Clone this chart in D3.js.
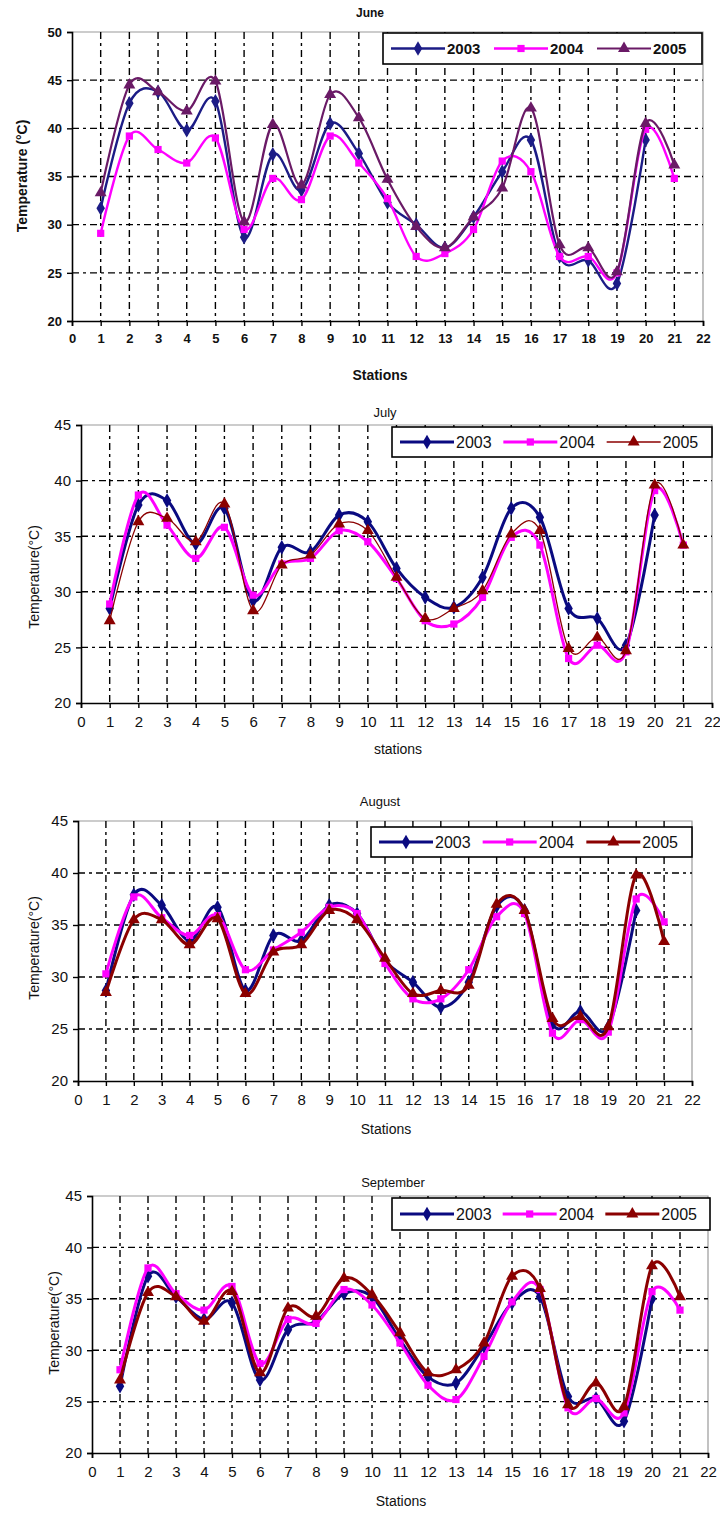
<!DOCTYPE html>
<html>
<head>
<meta charset="utf-8">
<script src="https://cdn.jsdelivr.net/npm/d3@7"></script>
<style>
  html, body { margin: 0; padding: 0; background: #fff; }
  svg { display: block; font-family: "Liberation Sans", Arial, sans-serif; }
</style>
</head>
<body>
<svg id="chart" width="720" height="1513"></svg>
<script>
// Stations along the x axis and the axis tick labels
const stations = [1, 2, 3, 4, 5, 6, 7, 8, 9, 10, 11, 12, 13, 14, 15, 16, 17, 18, 19, 20, 21];
const xTicks = [0, 1, 2, 3, 4, 5, 6, 7, 8, 9, 10, 11, 12, 13, 14, 15, 16, 17, 18, 19, 20, 21, 22];
const yTicksJune = [20, 25, 30, 35, 40, 45, 50];
const yTicksOther = [20, 25, 30, 35, 40, 45];
const years = ["2003", "2004", "2005"];

// Mean temperature (°C) per station, by month and year
const june2003 = [31.7, 42.6, 43.8, 39.8, 42.8, 28.7, 37.3, 33.6, 40.5, 37.4, 32.3, 30.0, 27.6, 30.8, 35.5, 38.8, 26.7, 26.3, 23.9, 38.8, null];
const june2004 = [29.1, 39.2, 37.8, 36.4, 39.0, 29.5, 34.8, 32.6, 39.2, 36.4, 32.7, 26.7, 27.0, 29.5, 36.6, 35.5, 26.7, 26.7, 25.0, 39.9, 34.8];
const june2005 = [33.3, 44.5, 43.8, 41.8, 44.9, 30.3, 40.4, 34.1, 43.5, 41.1, 34.7, 29.8, 27.6, 30.8, 33.8, 42.1, 27.9, 27.6, 25.1, 40.5, 36.2];

const july2003 = [28.5, 37.8, 38.2, 34.3, 37.5, 29.2, 34.0, 33.6, 36.9, 36.3, 32.1, 29.5, 28.6, 31.3, 37.5, 36.7, 28.5, 27.6, 25.2, 36.9, null];
const july2004 = [28.9, 38.7, 36.0, 33.0, 35.8, 29.7, 32.5, 33.0, 35.5, 34.5, 31.2, 27.4, 27.1, 29.5, 34.9, 34.2, 24.0, 25.2, 24.6, 39.1, 34.2];
const july2005 = [27.4, 36.3, 36.6, 34.5, 37.9, 28.3, 32.4, 33.3, 36.1, 35.5, 31.3, 27.6, 28.5, 30.1, 35.2, 35.5, 24.9, 25.9, 24.7, 39.6, 34.2];

const aug2003 = [28.7, 37.9, 36.9, 33.5, 36.7, 28.7, 34.0, 33.5, 36.9, 36.1, 31.6, 29.5, 27.1, 29.5, 36.8, 36.4, 25.5, 26.7, 25.2, 36.4, null];
const aug2004 = [30.3, 37.7, 35.7, 34.0, 35.9, 30.7, 32.6, 34.3, 36.7, 36.1, 31.3, 27.9, 27.9, 30.7, 35.8, 36.1, 24.6, 25.9, 24.7, 37.5, 35.3];
const aug2005 = [28.5, 35.5, 35.5, 33.1, 35.6, 28.4, 32.4, 33.1, 36.4, 35.5, 31.8, 28.4, 28.7, 29.2, 37.0, 36.4, 26.0, 26.2, 25.2, 39.8, 33.4];

const sep2003 = [26.5, 37.2, 35.2, 33.0, 34.6, 27.1, 32.0, 32.8, 35.5, 35.2, 31.0, 27.4, 26.8, 30.4, 34.6, 35.2, 25.5, 25.3, 23.1, 35.0, null];
const sep2004 = [28.1, 38.0, 35.5, 33.9, 36.2, 28.7, 33.0, 32.6, 35.9, 34.4, 30.7, 26.6, 25.2, 29.4, 34.7, 35.9, 24.4, 25.3, 23.9, 35.7, 33.9];
const sep2005 = [27.1, 35.6, 35.2, 32.8, 35.7, 27.8, 34.1, 33.3, 37.0, 35.4, 31.7, 27.8, 28.1, 30.7, 37.2, 36.0, 24.7, 26.8, 24.5, 38.2, 35.2];

const svg = d3.select("#chart");

const panels = [
  {
    title: "June", xLabel: "Stations", yLabel: "Temperature (°C)",
    series: [june2003, june2004, june2005],
    colors: ["#1c1c86", "#ff00ff", "#6a1a66"],
    widths: [2.4, 2.4, 2.2],
    yDomain: [20, 50], yTicks: yTicksJune,
    left: 72, right: 703, top: 32, bottom: 321,
    titleX: 370, titleY: 17,
    legend: { x: 383, y: 33, w: 319, h: 31 },
    xLabelX: 380, xLabelY: 380, yLabelX: 22, yLabelY: 176,
    bold: true
  },
  {
    title: "July", xLabel: "stations", yLabel: "Temperature(°C)",
    series: [july2003, july2004, july2005],
    colors: ["#0a0a80", "#ff00ff", "#8b0000"],
    widths: [3, 3, 1.3],
    yDomain: [20, 45], yTicks: yTicksOther,
    left: 81, right: 712, top: 425, bottom: 703,
    titleX: 385, titleY: 417,
    legend: { x: 392, y: 427, w: 320, h: 30 },
    xLabelX: 398, xLabelY: 754, yLabelX: 34, yLabelY: 577,
    bold: false
  },
  {
    title: "August", xLabel: "Stations", yLabel: "Temperature(°C)",
    series: [aug2003, aug2004, aug2005],
    colors: ["#0a0a80", "#ff00ff", "#8b0000"],
    widths: [3, 3, 3],
    yDomain: [20, 45], yTicks: yTicksOther,
    left: 78, right: 692, top: 821, bottom: 1081,
    titleX: 380, titleY: 806,
    legend: { x: 371, y: 827, w: 321, h: 30 },
    xLabelX: 386, xLabelY: 1134, yLabelX: 34, yLabelY: 948,
    bold: false
  },
  {
    title: "September", xLabel: "Stations", yLabel: "Temperature(°C)",
    series: [sep2003, sep2004, sep2005],
    colors: ["#0a0a80", "#ff00ff", "#8b0000"],
    widths: [3, 3, 3],
    yDomain: [20, 45], yTicks: yTicksOther,
    left: 92, right: 708, top: 1196, bottom: 1453,
    titleX: 393, titleY: 1187,
    legend: { x: 392, y: 1198, w: 318, h: 32 },
    xLabelX: 401, xLabelY: 1506, yLabelX: 54, yLabelY: 1323,
    bold: false
  }
];

const symbols = [d3.symbolDiamond, d3.symbolSquare, d3.symbolTriangle];
const symbolSizes = [62, 52, 62];

panels.forEach(p => {
  const g = svg.append("g");
  const x = d3.scaleLinear().domain([0, 22]).range([p.left, p.right]);
  const y = d3.scaleLinear().domain(p.yDomain).range([p.bottom, p.top]);
  const weight = p.bold ? "bold" : "normal";

  // plot-area border (top and right)
  g.append("path")
    .attr("d", `M${p.left},${p.top}H${p.right}V${p.bottom}`)
    .attr("fill", "none").attr("stroke", "#9a9a9a").attr("stroke-width", 1.2);

  // dashed gridlines
  g.append("g").selectAll("line")
    .data(p.yTicks.slice(1, -1)).join("line")
    .attr("x1", p.left).attr("x2", p.right)
    .attr("y1", d => y(d)).attr("y2", d => y(d))
    .attr("stroke", "#000").attr("stroke-width", 1.4)
    .attr("stroke-dasharray", "7,4,3,4");
  g.append("g").selectAll("line")
    .data(xTicks.slice(1, -1)).join("line")
    .attr("x1", d => x(d)).attr("x2", d => x(d))
    .attr("y1", p.top).attr("y2", p.bottom)
    .attr("stroke", "#000").attr("stroke-width", 1.4)
    .attr("stroke-dasharray", "7,4,3,4");

  // axes
  const xAxis = g.append("g")
    .attr("transform", `translate(0,${p.bottom})`)
    .call(d3.axisBottom(x).tickValues(xTicks).tickFormat(d3.format("d"))
      .tickSize(5).tickPadding(8));
  const yAxis = g.append("g")
    .attr("transform", `translate(${p.left},0)`)
    .call(d3.axisLeft(y).tickValues(p.yTicks).tickFormat(d3.format("d"))
      .tickSize(5).tickPadding(5));
  [xAxis, yAxis].forEach(a => {
    a.select(".domain").attr("stroke", "#000").attr("stroke-width", 1.6);
    a.selectAll(".tick line").attr("stroke", "#000").attr("stroke-width", 1.4);
    a.selectAll(".tick text")
      .attr("fill", "#111")
      .style("font-size", p.bold ? "13px" : "15px")
      .style("font-weight", weight)
      .style("font-family", '"Liberation Sans", Arial, sans-serif');
  });

  // series lines and markers
  p.series.forEach((vals, i) => {
    const pts = stations.map((s, k) => ({ s, v: vals[k] }));
    const line = d3.line()
      .defined(d => d.v !== null)
      .x(d => x(d.s)).y(d => y(d.v))
      .curve(d3.curveCatmullRom.alpha(0));
    g.append("path")
      .datum(pts)
      .attr("d", line)
      .attr("fill", "none")
      .attr("stroke", p.colors[i])
      .attr("stroke-width", p.widths[i])
      .attr("stroke-linejoin", "round");
    g.append("g").selectAll("path")
      .data(pts.filter(d => d.v !== null)).join("path")
      .attr("transform", d => `translate(${x(d.s)},${y(d.v)})`)
      .attr("d", d3.symbol().type(symbols[i]).size(symbolSizes[i]))
      .attr("fill", p.colors[i]);
  });

  // legend
  const L = p.legend;
  const lg = g.append("g").attr("transform", `translate(${L.x},${L.y})`);
  lg.append("rect")
    .attr("width", L.w).attr("height", L.h)
    .attr("fill", "#fff").attr("stroke", "#000").attr("stroke-width", 1.6);
  const entryW = (L.w - 10) / 3;
  years.forEach((yr, i) => {
    const ex = 8 + i * entryW;
    const cy = L.h / 2;
    lg.append("line")
      .attr("x1", ex).attr("x2", ex + 54)
      .attr("y1", cy).attr("y2", cy)
      .attr("stroke", p.colors[i]).attr("stroke-width", p.widths[i]);
    lg.append("path")
      .attr("transform", `translate(${ex + 27},${cy})`)
      .attr("d", d3.symbol().type(symbols[i]).size(symbolSizes[i]))
      .attr("fill", p.colors[i]);
    lg.append("text")
      .attr("x", ex + 56).attr("y", cy)
      .attr("dy", "0.36em")
      .style("font-size", p.bold ? "15px" : "16px")
      .style("font-weight", weight)
      .attr("fill", "#111")
      .text(yr);
  });

  // title and axis labels
  g.append("text")
    .attr("x", p.titleX).attr("y", p.titleY)
    .attr("text-anchor", "middle")
    .style("font-size", p.bold ? "12px" : "13px").style("font-weight", weight)
    .attr("fill", "#111")
    .text(p.title);
  g.append("text")
    .attr("x", p.xLabelX).attr("y", p.xLabelY)
    .attr("text-anchor", "middle")
    .style("font-size", "14px").style("font-weight", weight)
    .attr("fill", "#111")
    .text(p.xLabel);
  g.append("text")
    .attr("transform", `translate(${p.yLabelX},${p.yLabelY}) rotate(-90)`)
    .attr("text-anchor", "middle")
    .attr("dy", "0.35em")
    .style("font-size", "14px").style("font-weight", weight)
    .attr("fill", "#111")
    .text(p.yLabel);
});
</script>
</body>
</html>
